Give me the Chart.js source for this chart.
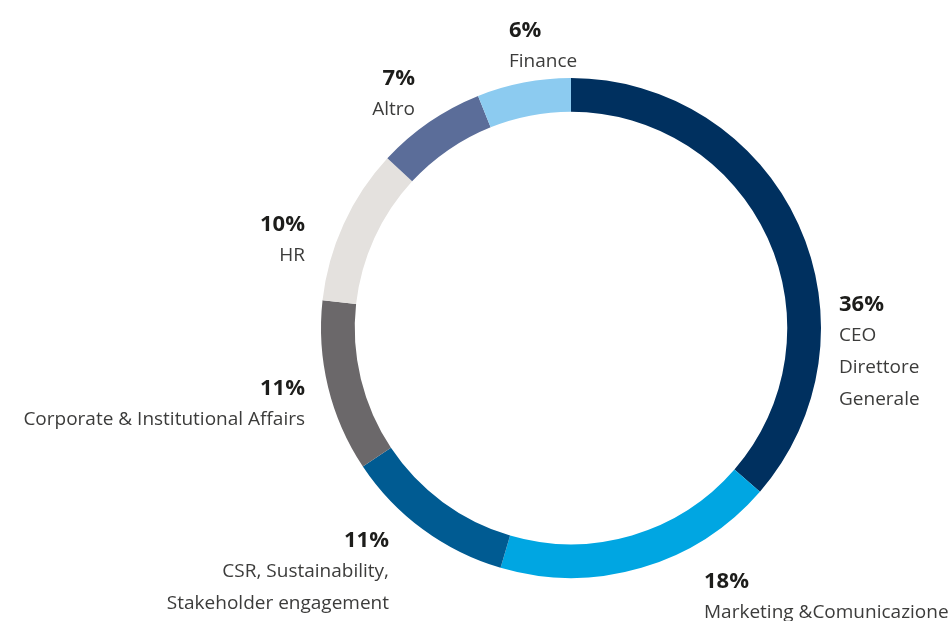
<!DOCTYPE html>
<html>
<head>
<meta charset="utf-8">
<script src="https://cdn.jsdelivr.net/npm/chart.js@4/dist/chart.umd.min.js"></script>
<style>
  html, body { margin: 0; padding: 0; background: #ffffff; }
  #wrap { width: 948px; height: 621px; position: relative; }
</style>
</head>
<body>
<div id="wrap"><canvas id="chart"></canvas></div>
<script>
// Ruoli responsabili (quota percentuale)
const categories = ['CEO\nDirettore\nGenerale', 'Marketing &Comunicazione', 'CSR, Sustainability,\nStakeholder engagement', 'Corporate & Institutional Affairs', 'HR', 'Altro', 'Finance'];
const shares = [36, 18, 11, 11, 10, 7, 6];
const sliceColors = ['#00305f', '#00a6e2', '#005b92', '#6b686a', '#e4e1de', '#5b6d99', '#8ccbf0'];

// Label placement per slice, relative to the ring centre, in units of outer radius
const labelLayout = [
  { dx: 1.072, dy: -0.068, align: 'left' },
  { dx: 0.532, dy: 1.040, align: 'left' },
  { dx: -0.728, dy: 0.876, align: 'right' },
  { dx: -1.064, dy: 0.268, align: 'right' },
  { dx: -1.064, dy: -0.388, align: 'right' },
  { dx: -0.624, dy: -0.972, align: 'right' },
  { dx: -0.248, dy: -1.164, align: 'left' }
];

const sliceLabels = {
  id: 'sliceLabels',
  afterDraw(chart) {
    const ctx = chart.ctx;
    const meta = chart.getDatasetMeta(0);
    const arc0 = meta.data[0];
    const cx = arc0.x, cy = arc0.y, R = arc0.outerRadius;
    const data = chart.data.datasets[0].data;
    ctx.save();
    meta.data.forEach((arc, i) => {
      const L = labelLayout[i];
      const x = cx + L.dx * R;
      let y = cy + L.dy * R;
      ctx.textAlign = L.align;
      ctx.textBaseline = 'alphabetic';
      ctx.fillStyle = '#1d1d1b';
      ctx.font = 'bold 22px "Open Sans", sans-serif';
      ctx.fillText(data[i] + '%', x, y);
      ctx.fillStyle = '#3c3c3b';
      ctx.font = '19px "Open Sans", sans-serif';
      const lines = chart.data.labels[i].split('\n');
      lines.forEach((ln, k) => {
        y += k === 0 ? 30 : 32;
        ctx.fillText(ln, x, y);
      });
    });
    ctx.restore();
  }
};

new Chart(document.getElementById('chart'), {
  type: 'doughnut',
  data: {
    labels: categories,
    datasets: [{
      data: shares,
      backgroundColor: sliceColors,
      borderWidth: 0
    }]
  },
  options: {
    responsive: true,
    maintainAspectRatio: false,
    animation: false,
    cutout: '86.5%',
    layout: { padding: { top: 78, bottom: 43, left: 321, right: 127 } },
    plugins: {
      legend: { display: false },
      tooltip: { enabled: false }
    }
  },
  plugins: [sliceLabels]
});
</script>
</body>
</html>
